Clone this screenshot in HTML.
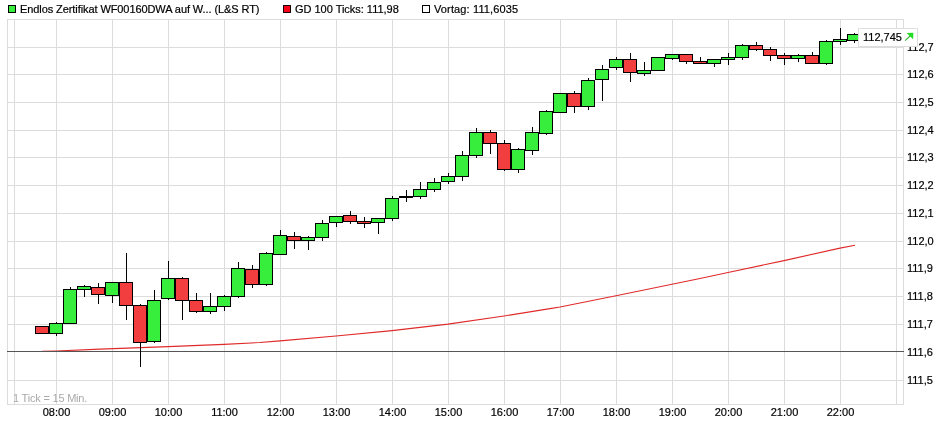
<!DOCTYPE html>
<html><head><meta charset="utf-8"><title>Chart</title>
<style>
html,body{margin:0;padding:0;background:#fff;}
body{width:946px;height:421px;position:relative;overflow:hidden;font-family:"Liberation Sans",sans-serif;font-size:11px;color:#000;}
.lg,.pl,.tl,.tick,.bt{will-change:transform;}
.lg,.pl,.tl,.bt{-webkit-text-stroke:0.2px #000;}
.lg{position:absolute;top:3px;height:13px;line-height:13px;white-space:nowrap;}
.sq{position:absolute;top:5px;width:8px;height:8px;box-sizing:border-box;border:1px solid #000;}
.pl{position:absolute;left:907px;height:13px;line-height:13px;white-space:nowrap;}
.tl{position:absolute;top:406px;width:41px;text-align:center;height:13px;line-height:13px;white-space:nowrap;}
.tick{position:absolute;left:13px;top:392px;height:13px;line-height:13px;color:#aaa;white-space:nowrap;}
.box{position:absolute;left:858px;top:28px;width:60px;height:19px;box-sizing:border-box;border:1px solid #dedede;background:#fff;}
.bt{position:absolute;left:863px;top:31px;height:13px;line-height:13px;white-space:nowrap;}
</style></head><body>
<svg width="946" height="421" viewBox="0 0 946 421" style="position:absolute;left:0;top:0">
<g shape-rendering="crispEdges">
<rect x="7" y="47" width="897" height="1" fill="#dcdcdc"/>
<rect x="7" y="74" width="897" height="1" fill="#dcdcdc"/>
<rect x="7" y="102" width="897" height="1" fill="#dcdcdc"/>
<rect x="7" y="130" width="897" height="1" fill="#dcdcdc"/>
<rect x="7" y="157" width="897" height="1" fill="#dcdcdc"/>
<rect x="7" y="185" width="897" height="1" fill="#dcdcdc"/>
<rect x="7" y="213" width="897" height="1" fill="#dcdcdc"/>
<rect x="7" y="241" width="897" height="1" fill="#dcdcdc"/>
<rect x="7" y="268" width="897" height="1" fill="#dcdcdc"/>
<rect x="7" y="296" width="897" height="1" fill="#dcdcdc"/>
<rect x="7" y="324" width="897" height="1" fill="#dcdcdc"/>
<rect x="7" y="380" width="897" height="1" fill="#dcdcdc"/>
<rect x="14" y="19" width="1" height="386" fill="#dcdcdc"/>
<rect x="56" y="19" width="1" height="386" fill="#dcdcdc"/>
<rect x="112" y="19" width="1" height="386" fill="#dcdcdc"/>
<rect x="168" y="19" width="1" height="386" fill="#dcdcdc"/>
<rect x="224" y="19" width="1" height="386" fill="#dcdcdc"/>
<rect x="280" y="19" width="1" height="386" fill="#dcdcdc"/>
<rect x="336" y="19" width="1" height="386" fill="#dcdcdc"/>
<rect x="392" y="19" width="1" height="386" fill="#dcdcdc"/>
<rect x="448" y="19" width="1" height="386" fill="#dcdcdc"/>
<rect x="504" y="19" width="1" height="386" fill="#dcdcdc"/>
<rect x="560" y="19" width="1" height="386" fill="#dcdcdc"/>
<rect x="616" y="19" width="1" height="386" fill="#dcdcdc"/>
<rect x="672" y="19" width="1" height="386" fill="#dcdcdc"/>
<rect x="728" y="19" width="1" height="386" fill="#dcdcdc"/>
<rect x="784" y="19" width="1" height="386" fill="#dcdcdc"/>
<rect x="840" y="19" width="1" height="386" fill="#dcdcdc"/>
<rect x="896" y="19" width="1" height="386" fill="#dcdcdc"/>
<rect x="7.5" y="19.5" width="896" height="385" fill="none" stroke="#dcdcdc" stroke-width="1"/>
</g>
<polyline points="42.0,351.4 56.0,351.0 100.0,349.1 168.0,346.6 224.0,344.4 260.0,342.5 280.0,340.9 336.0,336.0 392.0,330.6 448.0,324.1 504.0,316.0 550.0,308.6 560.0,307.0 616.0,295.7 672.0,284.3 700.0,278.5 728.0,272.5 784.0,260.6 840.0,248.1 855.0,245.2" fill="none" stroke="#e02a2a" stroke-width="1.1" stroke-linejoin="round"/>
<rect x="7" y="351" width="897" height="1" fill="#555" shape-rendering="crispEdges"/>
<g shape-rendering="crispEdges">
<rect x="35" y="326" width="14" height="8" fill="#000"/>
<rect x="36" y="327" width="12" height="6" fill="#f23e3e"/>
<rect x="56" y="322" width="1" height="1" fill="#000"/>
<rect x="56" y="334" width="1" height="2" fill="#000"/>
<rect x="49" y="323" width="14" height="11" fill="#000"/>
<rect x="50" y="324" width="12" height="9" fill="#38ee3c"/>
<rect x="70" y="287" width="1" height="2" fill="#000"/>
<rect x="63" y="289" width="14" height="35" fill="#000"/>
<rect x="64" y="290" width="12" height="33" fill="#38ee3c"/>
<rect x="84" y="285" width="1" height="1" fill="#000"/>
<rect x="84" y="290" width="1" height="7" fill="#000"/>
<rect x="77" y="286" width="14" height="4" fill="#000"/>
<rect x="78" y="287" width="12" height="2" fill="#38ee3c"/>
<rect x="98" y="283" width="1" height="4" fill="#000"/>
<rect x="98" y="295" width="1" height="9" fill="#000"/>
<rect x="91" y="287" width="14" height="8" fill="#000"/>
<rect x="92" y="288" width="12" height="6" fill="#f23e3e"/>
<rect x="112" y="296" width="1" height="7" fill="#000"/>
<rect x="105" y="282" width="14" height="14" fill="#000"/>
<rect x="106" y="283" width="12" height="12" fill="#38ee3c"/>
<rect x="126" y="253" width="1" height="29" fill="#000"/>
<rect x="126" y="306" width="1" height="14" fill="#000"/>
<rect x="119" y="282" width="14" height="24" fill="#000"/>
<rect x="120" y="283" width="12" height="22" fill="#f23e3e"/>
<rect x="140" y="304" width="1" height="1" fill="#000"/>
<rect x="140" y="343" width="1" height="24" fill="#000"/>
<rect x="133" y="305" width="14" height="38" fill="#000"/>
<rect x="134" y="306" width="12" height="36" fill="#f23e3e"/>
<rect x="154" y="290" width="1" height="10" fill="#000"/>
<rect x="154" y="342" width="1" height="1" fill="#000"/>
<rect x="147" y="300" width="14" height="42" fill="#000"/>
<rect x="148" y="301" width="12" height="40" fill="#38ee3c"/>
<rect x="168" y="261" width="1" height="17" fill="#000"/>
<rect x="168" y="299" width="1" height="1" fill="#000"/>
<rect x="161" y="278" width="14" height="21" fill="#000"/>
<rect x="162" y="279" width="12" height="19" fill="#38ee3c"/>
<rect x="182" y="277" width="1" height="1" fill="#000"/>
<rect x="182" y="301" width="1" height="19" fill="#000"/>
<rect x="175" y="278" width="14" height="23" fill="#000"/>
<rect x="176" y="279" width="12" height="21" fill="#f23e3e"/>
<rect x="196" y="293" width="1" height="7" fill="#000"/>
<rect x="196" y="312" width="1" height="1" fill="#000"/>
<rect x="189" y="300" width="14" height="12" fill="#000"/>
<rect x="190" y="301" width="12" height="10" fill="#f23e3e"/>
<rect x="210" y="293" width="1" height="13" fill="#000"/>
<rect x="210" y="312" width="1" height="2" fill="#000"/>
<rect x="203" y="306" width="14" height="6" fill="#000"/>
<rect x="204" y="307" width="12" height="4" fill="#38ee3c"/>
<rect x="224" y="295" width="1" height="1" fill="#000"/>
<rect x="224" y="307" width="1" height="4" fill="#000"/>
<rect x="217" y="296" width="14" height="11" fill="#000"/>
<rect x="218" y="297" width="12" height="9" fill="#38ee3c"/>
<rect x="238" y="262" width="1" height="6" fill="#000"/>
<rect x="238" y="297" width="1" height="1" fill="#000"/>
<rect x="231" y="268" width="14" height="29" fill="#000"/>
<rect x="232" y="269" width="12" height="27" fill="#38ee3c"/>
<rect x="252" y="265" width="1" height="4" fill="#000"/>
<rect x="252" y="285" width="1" height="3" fill="#000"/>
<rect x="245" y="269" width="14" height="16" fill="#000"/>
<rect x="246" y="270" width="12" height="14" fill="#f23e3e"/>
<rect x="266" y="252" width="1" height="1" fill="#000"/>
<rect x="266" y="285" width="1" height="1" fill="#000"/>
<rect x="259" y="253" width="14" height="32" fill="#000"/>
<rect x="260" y="254" width="12" height="30" fill="#38ee3c"/>
<rect x="280" y="230" width="1" height="5" fill="#000"/>
<rect x="273" y="235" width="14" height="20" fill="#000"/>
<rect x="274" y="236" width="12" height="18" fill="#38ee3c"/>
<rect x="294" y="232" width="1" height="4" fill="#000"/>
<rect x="294" y="241" width="1" height="8" fill="#000"/>
<rect x="287" y="236" width="14" height="5" fill="#000"/>
<rect x="288" y="237" width="12" height="3" fill="#f23e3e"/>
<rect x="308" y="236" width="1" height="1" fill="#000"/>
<rect x="308" y="241" width="1" height="9" fill="#000"/>
<rect x="301" y="237" width="14" height="4" fill="#000"/>
<rect x="302" y="238" width="12" height="2" fill="#38ee3c"/>
<rect x="322" y="220" width="1" height="3" fill="#000"/>
<rect x="322" y="238" width="1" height="3" fill="#000"/>
<rect x="315" y="223" width="14" height="15" fill="#000"/>
<rect x="316" y="224" width="12" height="13" fill="#38ee3c"/>
<rect x="336" y="223" width="1" height="4" fill="#000"/>
<rect x="329" y="216" width="14" height="7" fill="#000"/>
<rect x="330" y="217" width="12" height="5" fill="#38ee3c"/>
<rect x="350" y="211" width="1" height="4" fill="#000"/>
<rect x="350" y="222" width="1" height="2" fill="#000"/>
<rect x="343" y="215" width="14" height="7" fill="#000"/>
<rect x="344" y="216" width="12" height="5" fill="#f23e3e"/>
<rect x="364" y="217" width="1" height="4" fill="#000"/>
<rect x="364" y="224" width="1" height="4" fill="#000"/>
<rect x="357" y="221" width="14" height="3" fill="#000"/>
<rect x="358" y="222" width="12" height="1" fill="#f23e3e"/>
<rect x="378" y="223" width="1" height="11" fill="#000"/>
<rect x="371" y="218" width="14" height="5" fill="#000"/>
<rect x="372" y="219" width="12" height="3" fill="#38ee3c"/>
<rect x="392" y="196" width="1" height="2" fill="#000"/>
<rect x="392" y="219" width="1" height="2" fill="#000"/>
<rect x="385" y="198" width="14" height="21" fill="#000"/>
<rect x="386" y="199" width="12" height="19" fill="#38ee3c"/>
<rect x="406" y="190" width="1" height="6" fill="#000"/>
<rect x="406" y="198" width="1" height="4" fill="#000"/>
<rect x="399" y="196" width="14" height="2" fill="#000"/>
<rect x="420" y="182" width="1" height="7" fill="#000"/>
<rect x="420" y="197" width="1" height="2" fill="#000"/>
<rect x="413" y="189" width="14" height="8" fill="#000"/>
<rect x="414" y="190" width="12" height="6" fill="#38ee3c"/>
<rect x="434" y="178" width="1" height="4" fill="#000"/>
<rect x="434" y="190" width="1" height="2" fill="#000"/>
<rect x="427" y="182" width="14" height="8" fill="#000"/>
<rect x="428" y="183" width="12" height="6" fill="#38ee3c"/>
<rect x="448" y="173" width="1" height="3" fill="#000"/>
<rect x="448" y="182" width="1" height="2" fill="#000"/>
<rect x="441" y="176" width="14" height="6" fill="#000"/>
<rect x="442" y="177" width="12" height="4" fill="#38ee3c"/>
<rect x="462" y="151" width="1" height="4" fill="#000"/>
<rect x="462" y="177" width="1" height="4" fill="#000"/>
<rect x="455" y="155" width="14" height="22" fill="#000"/>
<rect x="456" y="156" width="12" height="20" fill="#38ee3c"/>
<rect x="476" y="128" width="1" height="4" fill="#000"/>
<rect x="476" y="156" width="1" height="2" fill="#000"/>
<rect x="469" y="132" width="14" height="24" fill="#000"/>
<rect x="470" y="133" width="12" height="22" fill="#38ee3c"/>
<rect x="490" y="130" width="1" height="2" fill="#000"/>
<rect x="490" y="144" width="1" height="10" fill="#000"/>
<rect x="483" y="132" width="14" height="12" fill="#000"/>
<rect x="484" y="133" width="12" height="10" fill="#f23e3e"/>
<rect x="504" y="140" width="1" height="3" fill="#000"/>
<rect x="504" y="170" width="1" height="1" fill="#000"/>
<rect x="497" y="143" width="14" height="27" fill="#000"/>
<rect x="498" y="144" width="12" height="25" fill="#f23e3e"/>
<rect x="518" y="148" width="1" height="1" fill="#000"/>
<rect x="518" y="170" width="1" height="3" fill="#000"/>
<rect x="511" y="149" width="14" height="21" fill="#000"/>
<rect x="512" y="150" width="12" height="19" fill="#38ee3c"/>
<rect x="532" y="127" width="1" height="5" fill="#000"/>
<rect x="532" y="151" width="1" height="4" fill="#000"/>
<rect x="525" y="132" width="14" height="19" fill="#000"/>
<rect x="526" y="133" width="12" height="17" fill="#38ee3c"/>
<rect x="546" y="110" width="1" height="1" fill="#000"/>
<rect x="546" y="134" width="1" height="1" fill="#000"/>
<rect x="539" y="111" width="14" height="23" fill="#000"/>
<rect x="540" y="112" width="12" height="21" fill="#38ee3c"/>
<rect x="553" y="93" width="14" height="20" fill="#000"/>
<rect x="554" y="94" width="12" height="18" fill="#38ee3c"/>
<rect x="574" y="91" width="1" height="2" fill="#000"/>
<rect x="574" y="107" width="1" height="6" fill="#000"/>
<rect x="567" y="93" width="14" height="14" fill="#000"/>
<rect x="568" y="94" width="12" height="12" fill="#f23e3e"/>
<rect x="588" y="78" width="1" height="2" fill="#000"/>
<rect x="588" y="107" width="1" height="3" fill="#000"/>
<rect x="581" y="80" width="14" height="27" fill="#000"/>
<rect x="582" y="81" width="12" height="25" fill="#38ee3c"/>
<rect x="602" y="65" width="1" height="4" fill="#000"/>
<rect x="602" y="80" width="1" height="21" fill="#000"/>
<rect x="595" y="69" width="14" height="11" fill="#000"/>
<rect x="596" y="70" width="12" height="9" fill="#38ee3c"/>
<rect x="616" y="57" width="1" height="2" fill="#000"/>
<rect x="616" y="68" width="1" height="2" fill="#000"/>
<rect x="609" y="59" width="14" height="9" fill="#000"/>
<rect x="610" y="60" width="12" height="7" fill="#38ee3c"/>
<rect x="630" y="53" width="1" height="6" fill="#000"/>
<rect x="630" y="73" width="1" height="9" fill="#000"/>
<rect x="623" y="59" width="14" height="14" fill="#000"/>
<rect x="624" y="60" width="12" height="12" fill="#f23e3e"/>
<rect x="644" y="62" width="1" height="8" fill="#000"/>
<rect x="644" y="74" width="1" height="2" fill="#000"/>
<rect x="637" y="70" width="14" height="4" fill="#000"/>
<rect x="638" y="71" width="12" height="2" fill="#38ee3c"/>
<rect x="651" y="57" width="14" height="14" fill="#000"/>
<rect x="652" y="58" width="12" height="12" fill="#38ee3c"/>
<rect x="672" y="59" width="1" height="1" fill="#000"/>
<rect x="665" y="54" width="14" height="5" fill="#000"/>
<rect x="666" y="55" width="12" height="3" fill="#38ee3c"/>
<rect x="686" y="62" width="1" height="2" fill="#000"/>
<rect x="679" y="54" width="14" height="8" fill="#000"/>
<rect x="680" y="55" width="12" height="6" fill="#f23e3e"/>
<rect x="700" y="57" width="1" height="4" fill="#000"/>
<rect x="693" y="61" width="14" height="3" fill="#000"/>
<rect x="694" y="62" width="12" height="1" fill="#f23e3e"/>
<rect x="714" y="64" width="1" height="3" fill="#000"/>
<rect x="707" y="59" width="14" height="5" fill="#000"/>
<rect x="708" y="60" width="12" height="3" fill="#38ee3c"/>
<rect x="728" y="53" width="1" height="4" fill="#000"/>
<rect x="728" y="60" width="1" height="5" fill="#000"/>
<rect x="721" y="57" width="14" height="3" fill="#000"/>
<rect x="722" y="58" width="12" height="1" fill="#38ee3c"/>
<rect x="742" y="44" width="1" height="1" fill="#000"/>
<rect x="742" y="58" width="1" height="2" fill="#000"/>
<rect x="735" y="45" width="14" height="13" fill="#000"/>
<rect x="736" y="46" width="12" height="11" fill="#38ee3c"/>
<rect x="756" y="42" width="1" height="3" fill="#000"/>
<rect x="756" y="50" width="1" height="1" fill="#000"/>
<rect x="749" y="45" width="14" height="5" fill="#000"/>
<rect x="750" y="46" width="12" height="3" fill="#f23e3e"/>
<rect x="770" y="47" width="1" height="2" fill="#000"/>
<rect x="770" y="56" width="1" height="5" fill="#000"/>
<rect x="763" y="49" width="14" height="7" fill="#000"/>
<rect x="764" y="50" width="12" height="5" fill="#f23e3e"/>
<rect x="784" y="53" width="1" height="2" fill="#000"/>
<rect x="784" y="59" width="1" height="6" fill="#000"/>
<rect x="777" y="55" width="14" height="4" fill="#000"/>
<rect x="778" y="56" width="12" height="2" fill="#f23e3e"/>
<rect x="798" y="54" width="1" height="1" fill="#000"/>
<rect x="798" y="59" width="1" height="3" fill="#000"/>
<rect x="791" y="55" width="14" height="4" fill="#000"/>
<rect x="792" y="56" width="12" height="2" fill="#38ee3c"/>
<rect x="812" y="52" width="1" height="3" fill="#000"/>
<rect x="805" y="55" width="14" height="9" fill="#000"/>
<rect x="806" y="56" width="12" height="7" fill="#f23e3e"/>
<rect x="826" y="40" width="1" height="1" fill="#000"/>
<rect x="826" y="64" width="1" height="1" fill="#000"/>
<rect x="819" y="41" width="14" height="23" fill="#000"/>
<rect x="820" y="42" width="12" height="21" fill="#38ee3c"/>
<rect x="840" y="28" width="1" height="11" fill="#000"/>
<rect x="840" y="42" width="1" height="3" fill="#000"/>
<rect x="833" y="39" width="14" height="3" fill="#000"/>
<rect x="834" y="40" width="12" height="1" fill="#38ee3c"/>
<rect x="854" y="33" width="1" height="1" fill="#000"/>
<rect x="854" y="41" width="1" height="2" fill="#000"/>
<rect x="847" y="34" width="14" height="7" fill="#000"/>
<rect x="848" y="35" width="12" height="5" fill="#38ee3c"/>
</g>
</svg>
<div class="sq" style="left:8px;background:#38ee3c"></div>
<div class="lg" style="left:20px;letter-spacing:-0.085px">Endlos Zertifikat WF00160DWA auf W... (L&amp;S RT)</div>
<div class="sq" style="left:283px;background:#fa0018;border-color:#1a0000"></div>
<div class="lg" style="left:295px;letter-spacing:-0.02px">GD 100 Ticks: 111,98</div>
<div class="sq" style="left:422px;background:#fff"></div>
<div class="lg" style="left:434px;letter-spacing:0.13px">Vortag: 111,6035</div>
<div class="tick" style="letter-spacing:-0.2px">1 Tick = 15 Min.</div>
<div class="pl" style="top:41px">112,7</div>
<div class="pl" style="top:68px">112,6</div>
<div class="pl" style="top:96px">112,5</div>
<div class="pl" style="top:124px">112,4</div>
<div class="pl" style="top:151px">112,3</div>
<div class="pl" style="top:179px">112,2</div>
<div class="pl" style="top:207px">112,1</div>
<div class="pl" style="top:235px">112,0</div>
<div class="pl" style="top:262px">111,9</div>
<div class="pl" style="top:290px">111,8</div>
<div class="pl" style="top:318px">111,7</div>
<div class="pl" style="top:346px">111,6</div>
<div class="pl" style="top:374px">111,5</div>
<div class="tl" style="left:36px">08:00</div>
<div class="tl" style="left:92px">09:00</div>
<div class="tl" style="left:148px">10:00</div>
<div class="tl" style="left:204px">11:00</div>
<div class="tl" style="left:260px">12:00</div>
<div class="tl" style="left:316px">13:00</div>
<div class="tl" style="left:372px">14:00</div>
<div class="tl" style="left:428px">15:00</div>
<div class="tl" style="left:484px">16:00</div>
<div class="tl" style="left:540px">17:00</div>
<div class="tl" style="left:596px">18:00</div>
<div class="tl" style="left:652px">19:00</div>
<div class="tl" style="left:708px">20:00</div>
<div class="tl" style="left:764px">21:00</div>
<div class="tl" style="left:820px">22:00</div>
<div class="box"></div>
<div class="bt">112,745</div>
<svg width="946" height="421" viewBox="0 0 946 421" style="position:absolute;left:0;top:0;pointer-events:none">
<path d="M905.1 40.7 L910.6 35.5" stroke="#30b830" stroke-width="1.05" fill="none"/>
<path d="M906.6 33 L913.4 32.7 L913.1 39.2 Z" fill="#22dd22"/>
</svg>
</body></html>
